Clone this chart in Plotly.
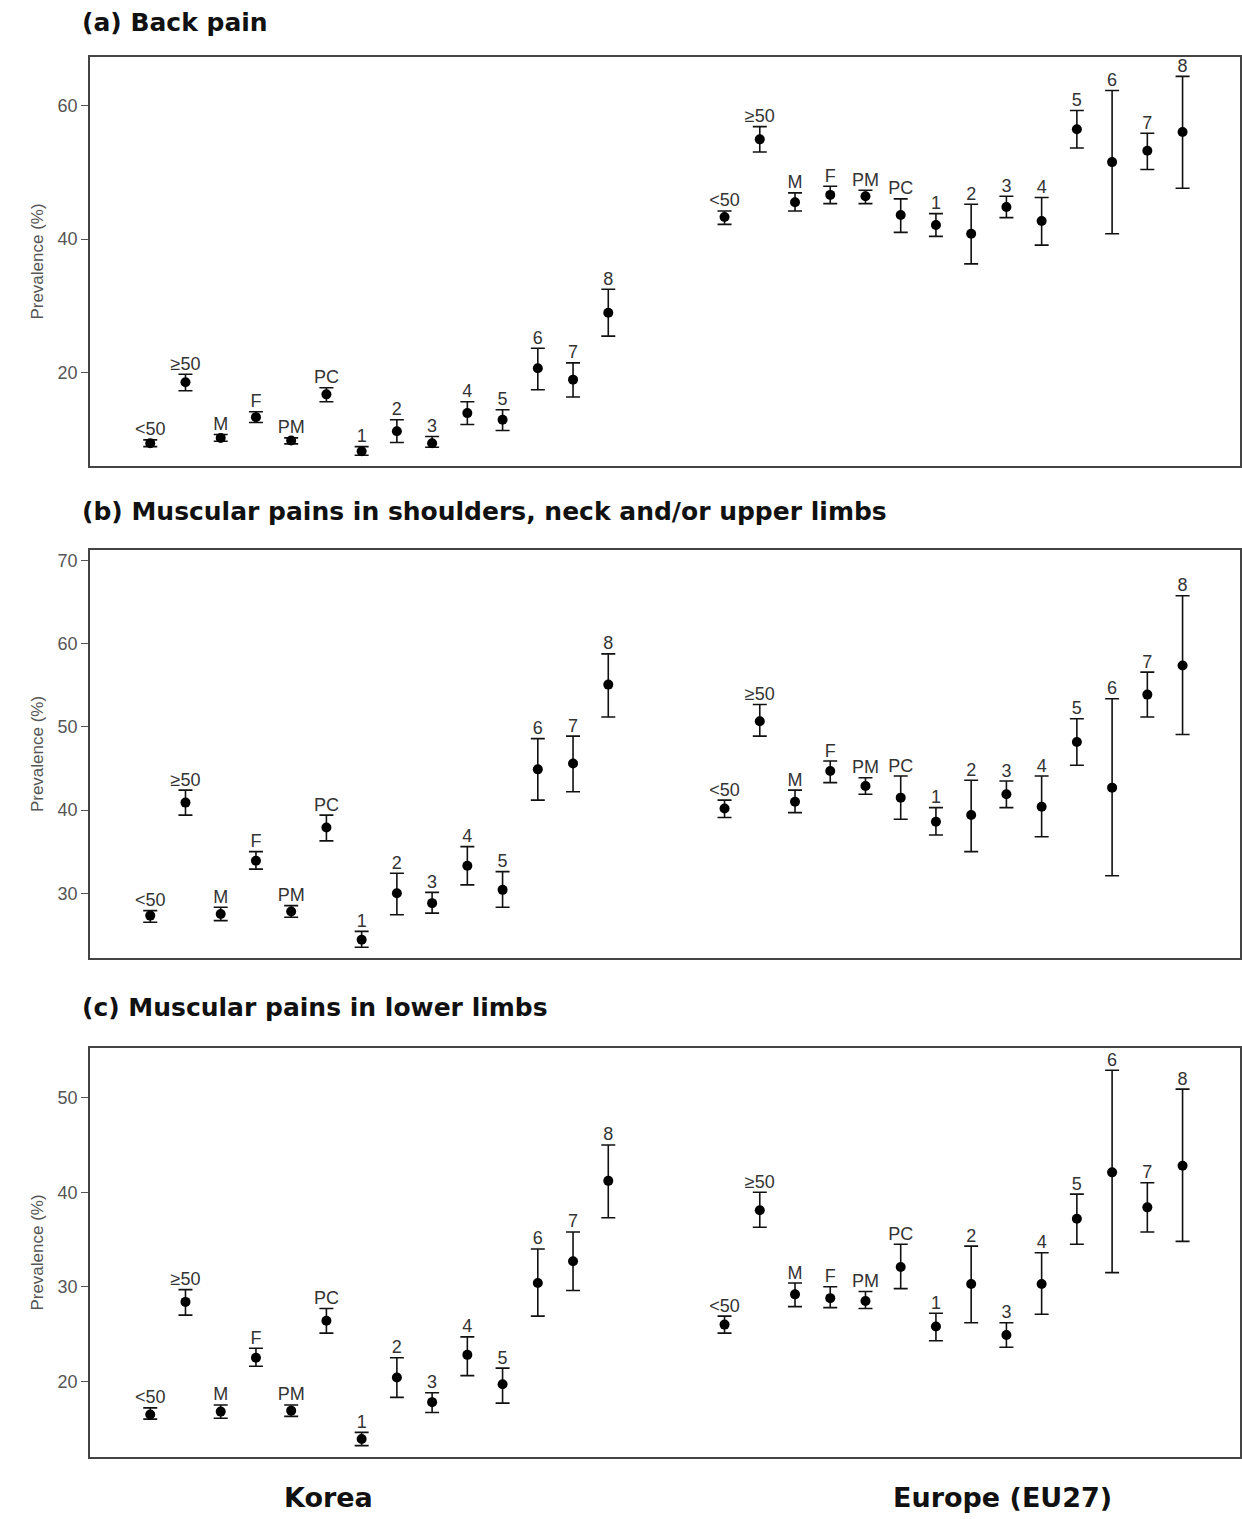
import plotly.graph_objects as go

labels = ["<50", "≥50", "M", "F", "PM", "PC", "1", "2", "3", "4", "5", "6", "7", "8"]

# (a) Back pain
a_kor_val = [9.5, 18.6, 10.3, 13.4, 9.9, 16.8, 8.3, 11.3, 9.5, 14.0, 13.0, 20.7, 19.0, 29.0]
a_kor_up = [10.0, 19.8, 10.8, 14.2, 10.3, 17.8, 9.0, 13.0, 10.5, 15.7, 14.5, 23.7, 21.5, 32.5]
a_kor_lo = [9.0, 17.35, 9.8, 12.6, 9.4, 15.7, 7.7, 9.6, 8.9, 12.3, 11.4, 17.5, 16.4, 25.5]
a_eu_val = [43.3, 54.9, 45.5, 46.6, 46.4, 43.6, 42.1, 40.8, 44.8, 42.7, 56.4, 51.5, 53.2, 56.0]
a_eu_up = [44.2, 56.8, 46.9, 47.9, 47.3, 46.0, 43.8, 45.2, 46.4, 46.2, 59.2, 62.2, 55.8, 64.3]
a_eu_lo = [42.2, 53.0, 44.2, 45.3, 45.3, 41.0, 40.4, 36.3, 43.2, 39.1, 53.6, 40.8, 50.4, 47.6]

# (b) Muscular pains in shoulders, neck and/or upper limbs
b_kor_val = [27.3, 40.9, 27.5, 33.9, 27.8, 37.9, 24.4, 30.0, 28.8, 33.3, 30.4, 44.9, 45.6, 55.1]
b_kor_up = [27.9, 42.4, 28.3, 35.0, 28.5, 39.4, 25.4, 32.4, 30.1, 35.6, 32.6, 48.6, 48.9, 58.8]
b_kor_lo = [26.5, 39.4, 26.7, 32.9, 27.1, 36.3, 23.5, 27.4, 27.6, 31.0, 28.3, 41.2, 42.2, 51.2]
b_eu_val = [40.2, 50.7, 41.0, 44.7, 42.9, 41.5, 38.6, 39.4, 41.9, 40.4, 48.2, 42.7, 53.9, 57.4]
b_eu_up = [41.2, 52.7, 42.4, 45.9, 43.9, 44.1, 40.3, 43.6, 43.5, 44.1, 51.0, 53.4, 56.6, 65.8]
b_eu_lo = [39.1, 48.9, 39.7, 43.3, 41.9, 38.9, 37.0, 35.0, 40.3, 36.8, 45.4, 32.1, 51.2, 49.1]

# (c) Muscular pains in lower limbs
c_kor_val = [16.5, 28.4, 16.8, 22.5, 16.9, 26.4, 13.9, 20.4, 17.8, 22.8, 19.7, 30.4, 32.7, 41.2]
c_kor_up = [17.2, 29.7, 17.5, 23.5, 17.5, 27.7, 14.6, 22.5, 18.8, 24.7, 21.4, 34.0, 35.8, 45.0]
c_kor_lo = [16.0, 27.0, 16.1, 21.6, 16.3, 25.1, 13.2, 18.3, 16.7, 20.6, 17.7, 26.9, 29.6, 37.3]
c_eu_val = [26.0, 38.1, 29.2, 28.8, 28.5, 32.1, 25.8, 30.3, 24.9, 30.3, 37.2, 42.1, 38.4, 42.8]
c_eu_up = [26.9, 40.0, 30.4, 30.0, 29.5, 34.5, 27.2, 34.3, 26.2, 33.6, 39.8, 52.9, 41.0, 50.9]
c_eu_lo = [25.1, 36.3, 27.9, 27.8, 27.7, 29.8, 24.3, 26.2, 23.6, 27.1, 34.5, 31.5, 35.8, 34.8]

panel_titles = ["(a) Back pain",
                "(b) Muscular pains in shoulders, neck and/or upper limbs",
                "(c) Muscular pains in lower limbs"]
region_names = ["Korea", "Europe (EU27)"]

panels = [
    (a_kor_val, a_kor_up, a_kor_lo, a_eu_val, a_eu_up, a_eu_lo),
    (b_kor_val, b_kor_up, b_kor_lo, b_eu_val, b_eu_up, b_eu_lo),
    (c_kor_val, c_kor_up, c_kor_lo, c_eu_val, c_eu_up, c_eu_lo),
]

W, H = 1242, 1519
EU_OFFSET = 16.3
x_kor = [float(i) for i in range(len(labels))]
x_eu = [EU_OFFSET + i for i in range(len(labels))]

frames = [(57, 466), (550, 958), (1048, 1457)]
yranges = [[6.1, 67.2], [22.2, 71.3], [12.0, 55.25]]
ytickvals = [[20, 40, 60], [30, 40, 50, 60, 70], [20, 30, 40, 50]]
title_y = [22, 511, 1007]

TITLE_FONT = "DejaVu Sans, Open Sans, sans-serif"
BODY_FONT = "Liberation Sans, Arial, sans-serif"

fig = go.Figure()
layout = dict(
    width=W, height=H,
    margin=dict(l=0, r=0, t=0, b=0),
    paper_bgcolor="white", plot_bgcolor="white",
    showlegend=False,
    font=dict(family=BODY_FONT, color="#444"),
    annotations=[],
)

x0, x1 = 90 / W, 1240 / W
for p, (kv, ku, kl, ev, eu, el) in enumerate(panels):
    n = p + 1
    xa = "x" if n == 1 else f"x{n}"
    ya = "y" if n == 1 else f"y{n}"
    xs = x_kor + x_eu
    vals = kv + ev
    ups = ku + eu
    los = kl + el
    fig.add_trace(go.Scatter(
        x=xs, y=vals, mode="markers",
        marker=dict(color="black", size=10),
        error_y=dict(type="data", symmetric=False,
                     array=[u - v for u, v in zip(ups, vals)],
                     arrayminus=[v - l for v, l in zip(vals, los)],
                     color="#111", thickness=1.6, width=7),
        xaxis=xa, yaxis=ya, hoverinfo="skip"))
    fig.add_trace(go.Scatter(
        x=xs, y=ups, mode="text", text=labels + labels,
        textposition="top center",
        textfont=dict(size=18, color="#333", family=BODY_FONT),
        xaxis=xa, yaxis=ya, hoverinfo="skip"))

    top, bot = frames[p]
    dom = [1 - bot / H, 1 - top / H]
    xkey = "xaxis" if n == 1 else f"xaxis{n}"
    ykey = "yaxis" if n == 1 else f"yaxis{n}"
    layout[xkey] = dict(domain=[x0, x1], range=[-1.71, 30.93], anchor=ya,
                        showticklabels=False, ticks="", showgrid=False, zeroline=False,
                        showline=True, mirror=True, linecolor="#444", linewidth=1.6)
    layout[ykey] = dict(domain=dom, range=yranges[p], anchor=xa,
                        tickvals=ytickvals[p], ticks="outside", ticklen=7, tickwidth=1.2,
                        tickcolor="#555", tickfont=dict(size=18, color="#555"),
                        showgrid=False, zeroline=False,
                        showline=True, mirror=True, linecolor="#444", linewidth=1.6,
                        title=dict(text="Prevalence (%)", font=dict(size=17, color="#555"),
                                   standoff=10))
    layout["annotations"].append(dict(
        text=f"<b>{panel_titles[p]}</b>", xref="paper", yref="paper",
        x=80 / W, y=1 - title_y[p] / H, xanchor="left", yanchor="middle",
        showarrow=False,
        font=dict(size=25, color="#111", family=TITLE_FONT)))

for name, cx in zip(region_names, [328, 1002]):
    layout["annotations"].append(dict(
        text=f"<b>{name}</b>", xref="paper", yref="paper",
        x=cx / W, y=1 - 1497 / H, xanchor="center", yanchor="middle",
        showarrow=False,
        font=dict(size=27, color="#111", family=TITLE_FONT)))

fig.update_layout(**layout)
fig.write_html("out.html", config={"displayModeBar": False},
               post_script="document.body.style.margin='0px';document.body.style.padding='0px';")
